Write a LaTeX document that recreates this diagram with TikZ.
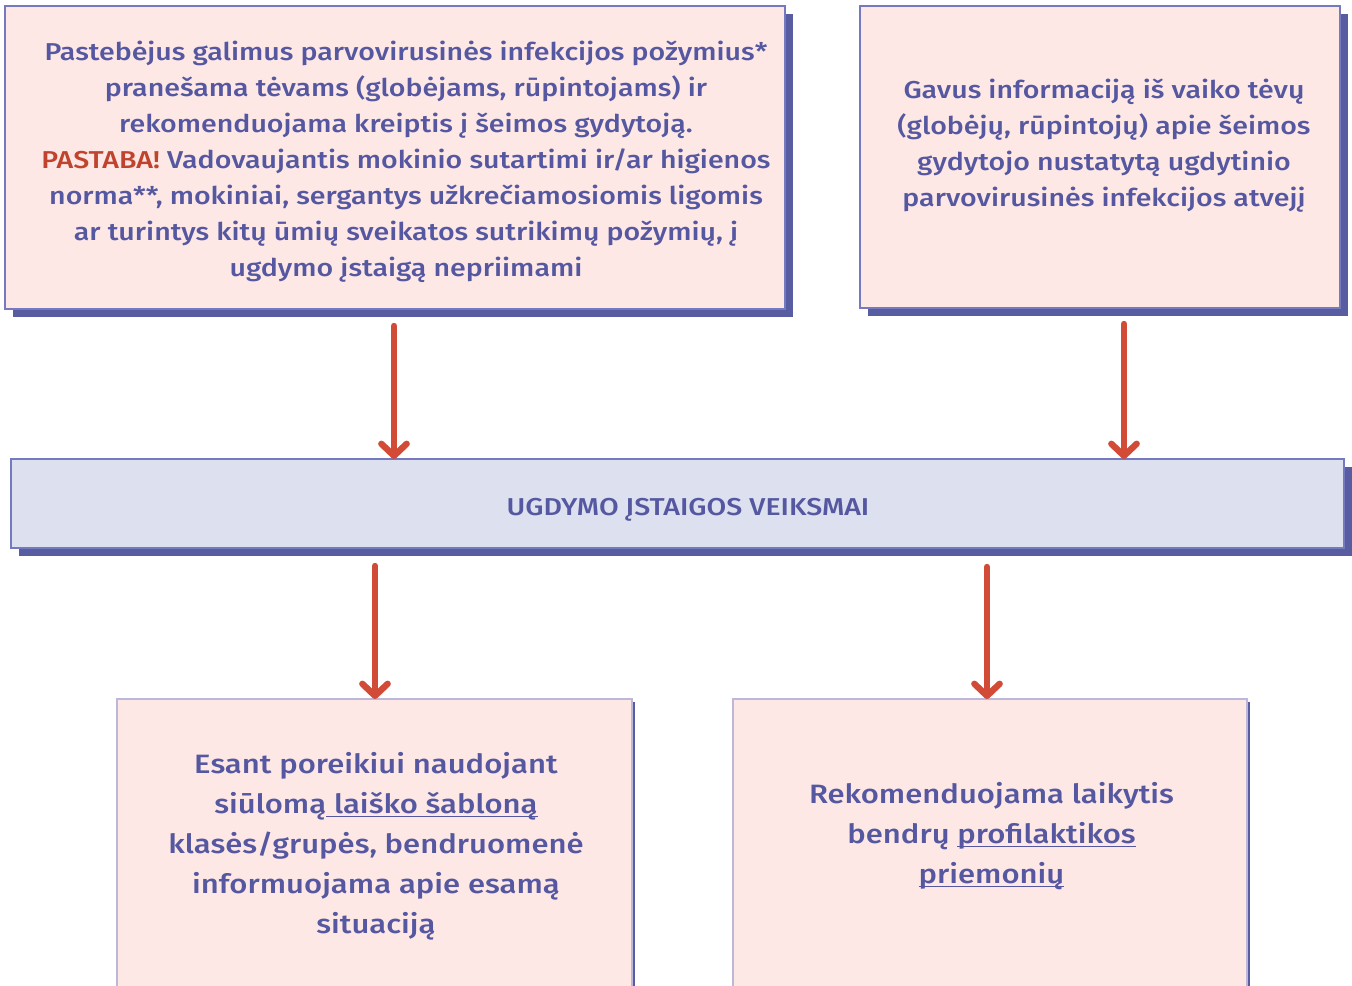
\documentclass[tikz,border=0pt]{standalone}
\usepackage{fontspec}
\setmainfont{Fira Sans}[UprightFont={* Medium},BoldFont={* SemiBold},FakeStretch=1.17]
\usetikzlibrary{arrows.meta,shadows,calc}
\newcommand\myul[1]{{\setbox0\hbox{#1}\rlap{\rule[-2.6pt]{\wd0}{0.9pt}}\box0}}
\definecolor{txt}{HTML}{5558A0}
\definecolor{warn}{HTML}{C0432E}
\definecolor{pinkfill}{HTML}{FDE8E6}
\definecolor{bluefill}{HTML}{DDE0EF}
\definecolor{edge}{HTML}{7479C0}
\definecolor{lightedge}{HTML}{BDB8DA}
\definecolor{shadowc}{HTML}{575DA0}
\definecolor{arrowc}{HTML}{D24B36}
\tikzset{
  box/.style={draw=edge, line width=0.9pt, fill=pinkfill, outer sep=0pt, inner sep=0pt,
    drop shadow={shadow xshift=6pt, shadow yshift=-6pt, fill=shadowc, opacity=1}},
  midbox/.style={box, fill=bluefill},
  lowbox/.style={draw=lightedge, line width=0.9pt, fill=pinkfill, outer sep=0pt, inner sep=0pt,
    drop shadow={shadow xshift=2.5pt, shadow yshift=-2.5pt, fill=shadowc, opacity=1}},
  label/.style={text=txt, align=center, inner sep=0pt, font=\fontsize{18.3}{27}\selectfont},
  biglabel/.style={label, font=\fontsize{19.9}{30}\selectfont},
  arr/.style={draw=arrowc, line width=4.8pt, line cap=round,
    -{Straight Barb[round, length=9pt, width=19pt]}}
}
\begin{document}
\begin{tikzpicture}[x=0.75pt,y=-0.75pt]
\path[use as bounding box] (0,0) rectangle (1352,985);
\clip (0,0) rectangle (1352,985);
% boxes
\node[box, minimum width=585pt, minimum height=227.25pt] (A) at (395,157.5) {};
\node[box, minimum width=360pt, minimum height=226.5pt] (B) at (1100,157) {};
\node[midbox, minimum width=999.75pt, minimum height=66.75pt] (M) at (677.5,503.5) {};
\node[lowbox, minimum width=386.25pt, minimum height=300.75pt] (C) at (374.5,899.5) {};
\node[lowbox, minimum width=385.5pt, minimum height=300.75pt] (D) at (990,899.5) {};
% texts
\node[label] (tA) at (406,162) {Pastebėjus galimus parvovirusinės infekcijos požymius*\\
pranešama tėvams (globėjams, rūpintojams) ir\\
rekomenduojama kreiptis į šeimos gydytoją.\\
{\color{warn}PASTABA!} Vadovaujantis mokinio sutartimi ir/ar higienos\\
norma**, mokiniai, sergantys užkrečiamosiomis ligomis\\
ar turintys kitų ūmių sveikatos sutrikimų požymių, į\\
ugdymo įstaigą nepriimami};
\node[label] (tB) at (1104,146) {Gavus informaciją iš vaiko tėvų\\
(globėjų, rūpintojų) apie šeimos\\
gydytojo nustatytą ugdytinio\\
parvovirusinės infekcijos atvejį};
\node[label] (tM) at (688,510) {UGDYMO ĮSTAIGOS VEIKSMAI};
\node[biglabel] (tC) at (376,846) {Esant poreikiui naudojant\\
siūlomą\myul{ laiško šabloną}\\
klasės/grupės, bendruomenė\\
informuojama apie esamą\\
situaciją};
\node[biglabel] (tD) at (991.5,836) {Rekomenduojama laikytis\\
bendrų \myul{profilaktikos}\\
\myul{priemonių}};
% connectors
\coordinate (a1) at (394,326);
\coordinate (b1) at (1124,324);
\coordinate (c1) at (375,566);
\coordinate (d1) at (987,567);
\draw[arr] (a1) -- (a1 |- M.north);
\draw[arr] (b1) -- (b1 |- M.north);
\draw[arr] (c1) -- (c1 |- C.north);
\draw[arr] (d1) -- (d1 |- D.north);
\end{tikzpicture}
\end{document}
